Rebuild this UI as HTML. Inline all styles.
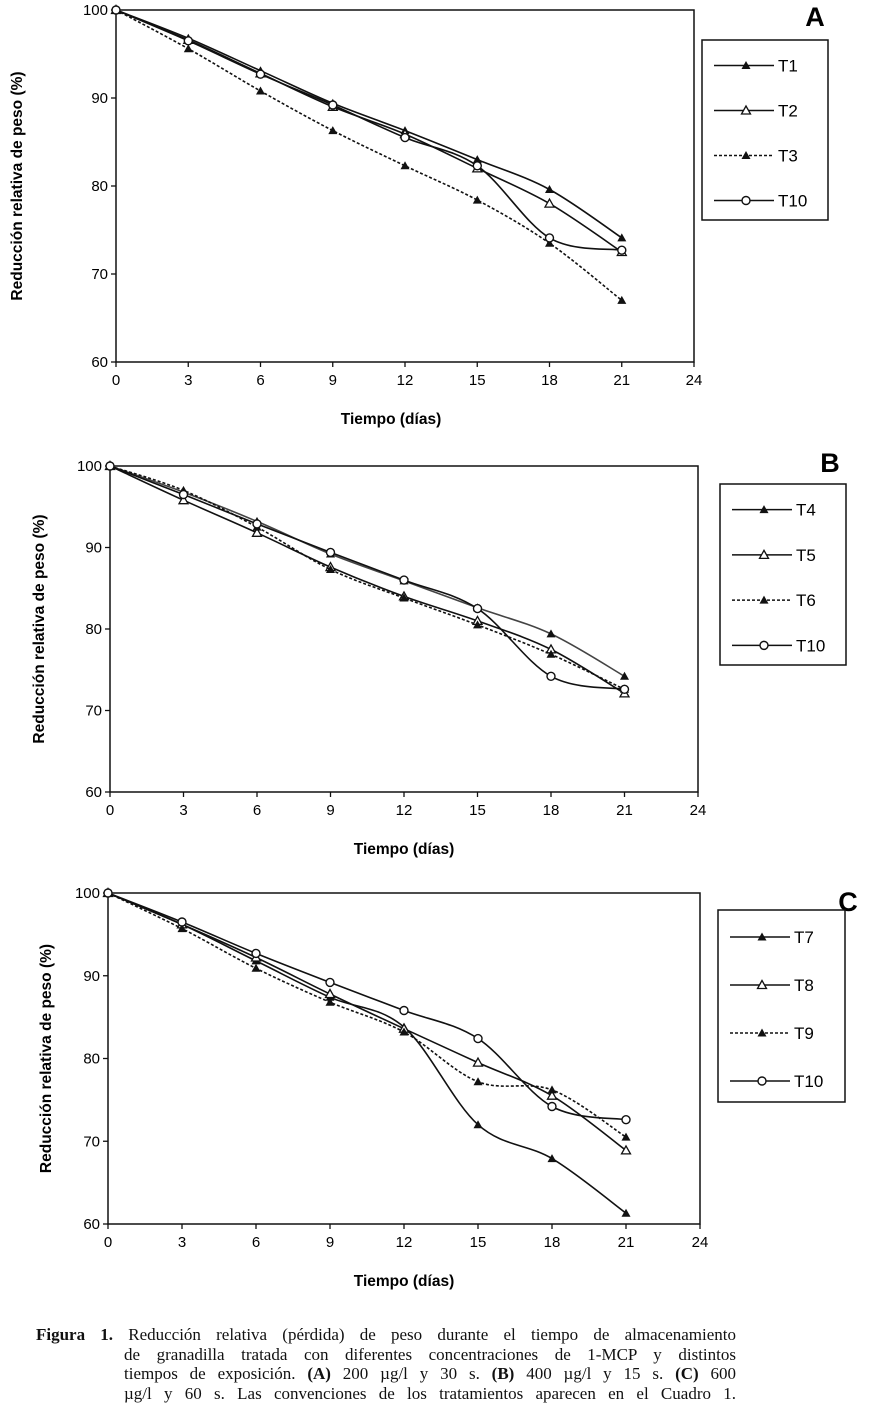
<!DOCTYPE html>
<html><head><meta charset="utf-8"><style>
body{margin:0;background:#fff;width:876px;height:1412px;overflow:hidden;font-family:"Liberation Sans",Arial,sans-serif}
svg{position:absolute;left:0;top:0}
.cap{position:absolute;left:36px;top:1325px;font-family:"Liberation Serif",serif;font-size:17px;line-height:19.5px;color:#111;width:700px;white-space:nowrap}
.cap div{text-align:justify;text-align-last:justify}
.cap .i{margin-left:88px}
</style></head><body>
<svg id="s" width="876" height="1320" xmlns="http://www.w3.org/2000/svg"></svg>
<div class="cap">
<div><b>Figura 1.</b> Reducción relativa (pérdida) de peso durante el tiempo de almacenamiento</div>
<div class="i">de granadilla tratada con diferentes concentraciones de 1-MCP y distintos</div>
<div class="i">tiempos de exposición. <b>(A)</b> 200 µg/l y 30 s. <b>(B)</b> 400 µg/l y 15 s. <b>(C)</b> 600</div>
<div class="i">µg/l y 60 s. Las convenciones de los tratamientos aparecen en el Cuadro 1.</div>
</div>
<script>
const S=document.getElementById('s');let h='';
function path(pts){let d='M'+pts[0][0]+','+pts[0][1];for(let i=0;i<pts.length-1;i++){const p0=pts[i-1]||pts[i],p1=pts[i],p2=pts[i+1],p3=pts[i+2]||p2;const c1=[p1[0]+(p2[0]-p0[0])/6,p1[1]+(p2[1]-p0[1])/6],c2=[p2[0]-(p3[0]-p1[0])/6,p2[1]-(p3[1]-p1[1])/6];d+=` C${c1[0].toFixed(1)},${c1[1].toFixed(1)} ${c2[0].toFixed(1)},${c2[1].toFixed(1)} ${p2[0]},${p2[1]}`;}return d;}
function mk(t,x,y){if(t=='tf')return `<polygon points="${x},${y-4.5} ${x-4.5},${y+3.5} ${x+4.5},${y+3.5}" fill="#111"/>`;if(t=='to')return `<polygon points="${x},${y-4.5} ${x-4.5},${y+3.5} ${x+4.5},${y+3.5}" fill="#fff" stroke="#111" stroke-width="1.3"/>`;return `<circle cx="${x}" cy="${y}" r="4" fill="#fff" stroke="#111" stroke-width="1.4"/>`;}
function chart(c){const X=d=>c.L+d*(c.R-c.L)/24,Y=v=>c.T+(100-v)*(c.B-c.T)/40;
h+=`<rect x="${c.L}" y="${c.T}" width="${c.R-c.L}" height="${c.B-c.T}" fill="none" stroke="#111" stroke-width="1.5"/>`;
for(let v=60;v<=100;v+=10){h+=`<line x1="${c.L-5}" x2="${c.L}" y1="${Y(v)}" y2="${Y(v)}" stroke="#111" stroke-width="1.3"/><text x="${c.L-8}" y="${Y(v)+5}" text-anchor="end" font-size="15">${v}</text>`;}
for(let d=0;d<=24;d+=3){h+=`<line x1="${X(d)}" x2="${X(d)}" y1="${c.B}" y2="${c.B+5}" stroke="#111" stroke-width="1.3"/><text x="${X(d)}" y="${c.B+23}" text-anchor="middle" font-size="15">${d}</text>`;}
h+=`<text x="${(c.L+c.R)/2-(c.L==116?14:0)}" y="${c.B+62}" text-anchor="middle" font-size="15.5" font-weight="bold">Tiempo (días)</text>`;
const ym=(c.T+c.B)/2;h+=`<text transform="translate(${c.yx},${ym}) rotate(-90)" text-anchor="middle" font-size="15.5" font-weight="bold">Reducción relativa de peso (%)</text>`;
h+=`<text x="${c.lx}" y="${c.ly}" font-size="27" font-weight="bold" text-anchor="middle">${c.letter}</text>`;
h+=`<rect x="${c.bx}" y="${c.by}" width="${c.bw}" height="${c.bh}" fill="none" stroke="#111" stroke-width="1.5"/>`;
c.s.forEach((s,i)=>{const pts=s.v.map((v,j)=>[+X(j*3).toFixed(1),+Y(v).toFixed(1)]);
h+=`<path d="${path(pts)}" fill="none" stroke="${s.col||'#111'}" stroke-width="1.6" ${s.dash?'stroke-dasharray="3,2"':''}/>`;pts.forEach(p=>h+=mk(s.m,p[0],p[1]));
const ly=c.by+c.bh*(i+0.5)/4+3;h+=`<line x1="${c.bx+12}" x2="${c.bx+72}" y1="${ly}" y2="${ly}" stroke="#111" stroke-width="1.6" ${s.dash?'stroke-dasharray="3,2"':''}/>`+mk(s.m,c.bx+44,ly)+`<text x="${c.bx+76}" y="${ly+6}" font-size="17">${s.n}</text>`;});}
chart({L:116,R:694,T:10,B:362,yx:22,lx:815,ly:26,letter:'A',bx:702,by:40,bw:126,bh:180,s:[
{n:'T1',m:'tf',v:[100,96.8,93.1,89.4,86.3,83.0,79.6,74.1]},
{n:'T2',m:'to',v:[100,96.6,92.8,89.0,85.9,82.0,78.0,72.5]},
{n:'T3',m:'tf',dash:1,v:[100,95.6,90.8,86.3,82.3,78.4,73.5,67.0]},
{n:'T10',m:'c',v:[100,96.5,92.7,89.2,85.5,82.3,74.1,72.7]}]});
chart({L:110,R:698,T:466,B:792,yx:44,lx:830,ly:472,letter:'B',bx:720,by:484,bw:126,bh:181,s:[
{n:'T4',m:'tf',col:'#444',v:[100,96.8,93.2,89.2,85.9,82.6,79.4,74.2]},
{n:'T5',m:'to',v:[100,95.8,91.8,87.6,84.0,81.0,77.5,72.1]},
{n:'T6',m:'tf',dash:1,v:[100,97.0,92.5,87.3,83.8,80.5,76.9,72.6]},
{n:'T10',m:'c',v:[100,96.5,92.9,89.4,86.0,82.5,74.2,72.6]}]});
chart({L:108,R:700,T:893,B:1224,yx:51,lx:848,ly:911,letter:'C',bx:718,by:910,bw:127,bh:192,s:[
{n:'T7',m:'tf',v:[100,96.2,91.8,87.4,83.8,72.0,67.9,61.3]},
{n:'T8',m:'to',v:[100,96.2,92.2,87.8,83.6,79.5,75.5,68.9]},
{n:'T9',m:'tf',dash:1,v:[100,95.7,90.9,86.8,83.2,77.2,76.2,70.5]},
{n:'T10',m:'c',v:[100,96.5,92.7,89.2,85.8,82.4,74.2,72.6]}]});
S.innerHTML=h;
</script>
</body></html>
